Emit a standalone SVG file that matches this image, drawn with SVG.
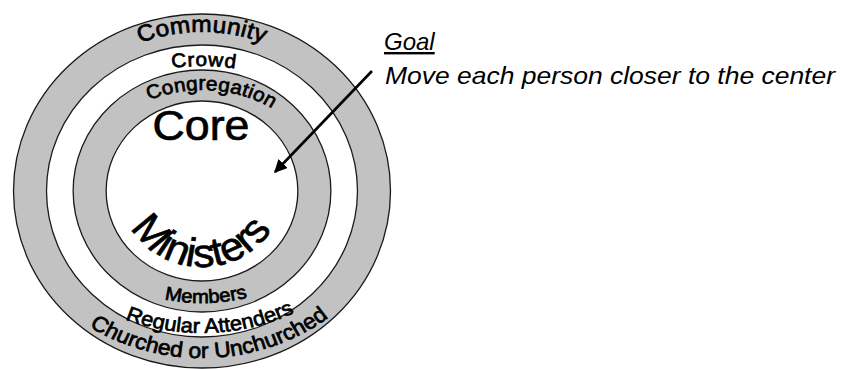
<svg xmlns="http://www.w3.org/2000/svg" xmlns:xlink="http://www.w3.org/1999/xlink" width="849" height="369" viewBox="0 0 849 369">
<style>
.ring{fill:#c2c2c2;stroke:#1a1a1a;stroke-width:1.3}
.hole{fill:#ffffff;stroke:#1a1a1a;stroke-width:1.3}
.lbl{font-family:"Liberation Sans",Arial,sans-serif;fill:#000;stroke:#000;stroke-width:0.7}
.note{font-family:"Liberation Sans",Arial,sans-serif;font-style:italic;font-size:24px;fill:#000}
</style>
<defs>
<path id="pCommunity" d="M -159,0 A 159 159 0 0 1 159,0"/>
<path id="pCrowd" d="M -200,75 A 200 200 0 0 1 200,75"/>
<path id="pCongregation" d="M -127,26 A 127 127 0 0 1 127,26"/>
<path id="pMinisters" d="M -76,0 A 76 76 0 0 0 76,0"/>
<path id="pMembers" d="M -170,-58 A 170 170 0 0 0 170,-58"/>
<path id="pRegular" d="M -197,-55 A 197 197 0 0 0 197,-55"/>
<path id="pChurched" d="M -195,-28 A 195 195 0 0 0 195,-28"/>
<marker id="ah" viewBox="0 0 10 10" refX="9" refY="5" markerWidth="5" markerHeight="5" orient="auto" markerUnits="strokeWidth">
<path d="M0,0 L10,5 L0,10 z" fill="#000"/>
</marker>
</defs>
<g transform="translate(202,191) scale(1.065,1)">
<g id="community">
<circle class="ring" cx="0" cy="0" r="177" vector-effect="non-scaling-stroke"/>
<text class="lbl" font-size="23" letter-spacing="0.3"><textPath xlink:href="#pCommunity" href="#pCommunity" startOffset="50%" text-anchor="middle">Community</textPath></text>
<text class="lbl" font-size="21.5"><textPath xlink:href="#pChurched" href="#pChurched" startOffset="51.3%" text-anchor="middle">Churched or Unchurched</textPath></text>
</g>
<g id="crowd">
<circle class="hole" cx="0" cy="0" r="146" vector-effect="non-scaling-stroke"/>
<text class="lbl" font-size="19.5" letter-spacing="0.8"><textPath xlink:href="#pCrowd" href="#pCrowd" startOffset="50.3%" text-anchor="middle">Crowd</textPath></text>
<text class="lbl" font-size="20.5"><textPath xlink:href="#pRegular" href="#pRegular" startOffset="51.3%" text-anchor="middle">Regular Attenders</textPath></text>
</g>
<g id="congregation">
<circle class="ring" cx="0" cy="0" r="121" vector-effect="non-scaling-stroke"/>
<text class="lbl" font-size="19.5" letter-spacing="0.3"><textPath xlink:href="#pCongregation" href="#pCongregation" startOffset="52.3%" text-anchor="middle">Congregation</textPath></text>
<text class="lbl" font-size="19"><textPath xlink:href="#pMembers" href="#pMembers" startOffset="50.7%" text-anchor="middle">Members</textPath></text>
</g>
<g id="core">
<circle class="hole" cx="0" cy="0" r="90" vector-effect="non-scaling-stroke"/>
<text class="lbl" font-size="42" x="-1" y="-51" text-anchor="middle">Core</text>
<text class="lbl" font-size="40"><textPath xlink:href="#pMinisters" href="#pMinisters" startOffset="49.5%" text-anchor="middle">Ministers</textPath></text>
</g>
</g>
<g id="connectors">
<line x1="372" y1="71" x2="275" y2="172" stroke="#000" stroke-width="2.6" marker-end="url(#ah)"/>
</g>
<g id="goal">
<text class="note" x="384" y="50" text-decoration="underline">Goal</text>
<text class="note" x="385" y="84" textLength="450" lengthAdjust="spacingAndGlyphs">Move each person closer to the center</text>
</g>
</svg>
